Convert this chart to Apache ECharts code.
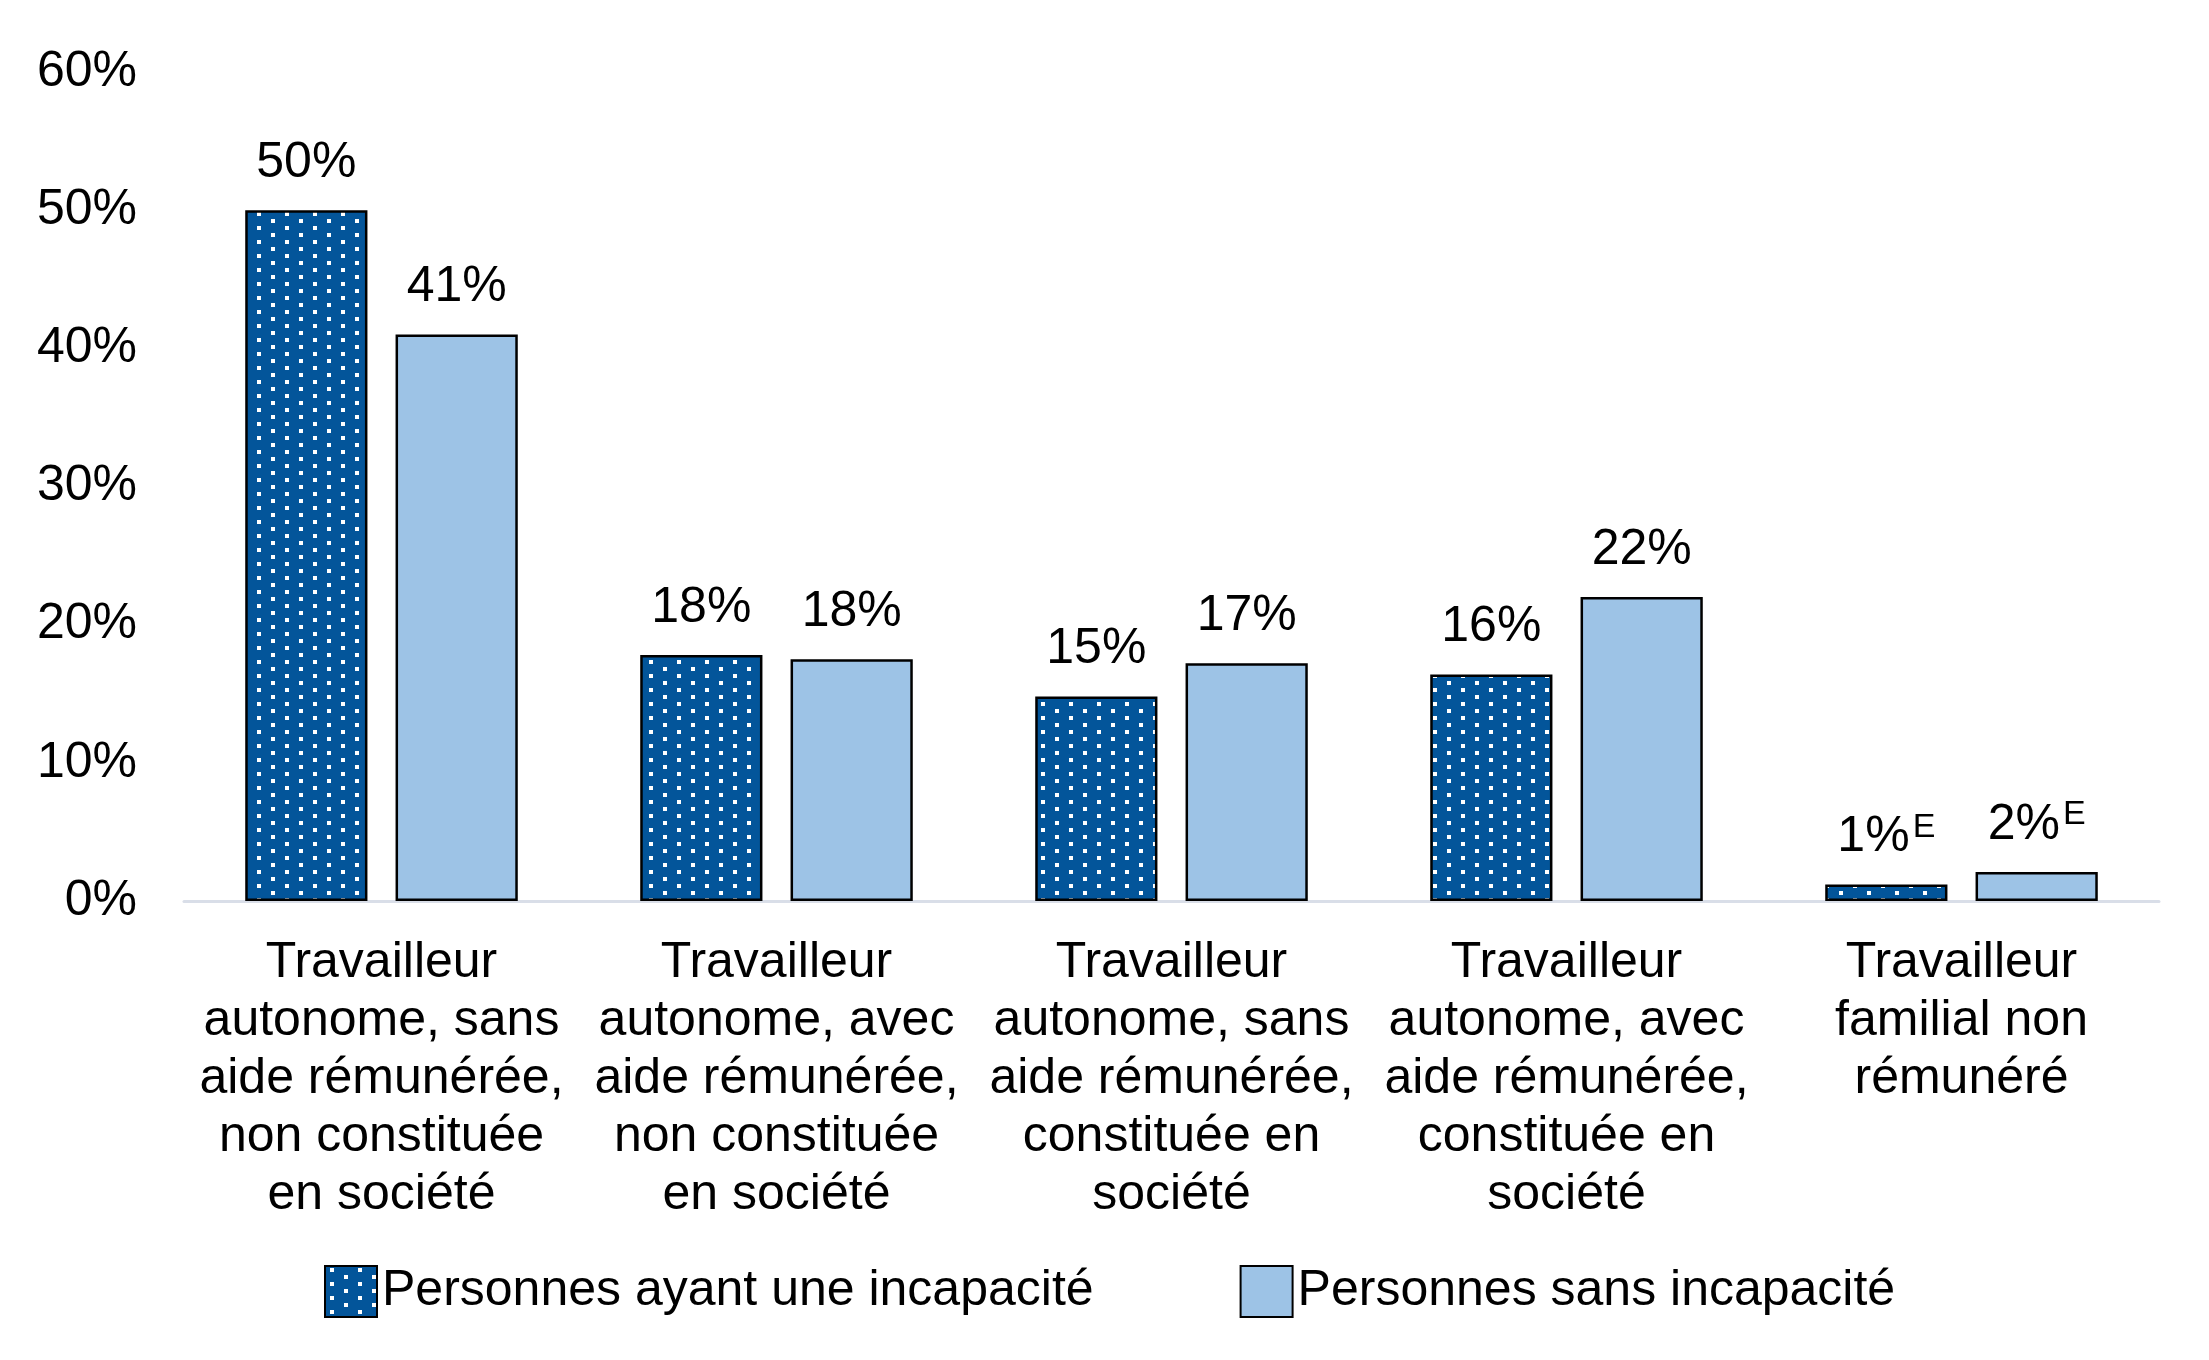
<!DOCTYPE html>
<html>
<head>
<meta charset="utf-8">
<script src="https://cdn.jsdelivr.net/npm/echarts@6/dist/echarts.min.js"></script>
<style>
html,body{margin:0;padding:0;background:#fff;}
#chart{width:2209px;height:1360px;}
</style>
</head>
<body>
<div id="chart"></div>
<script>
const categories = [
  "Travailleur\nautonome, sans\naide rémunérée,\nnon constituée\nen société",
  "Travailleur\nautonome, avec\naide rémunérée,\nnon constituée\nen société",
  "Travailleur\nautonome, sans\naide rémunérée,\nconstituée en\nsociété",
  "Travailleur\nautonome, avec\naide rémunérée,\nconstituée en\nsociété",
  "Travailleur\nfamilial non\nrémunéré"
];
const seriesNames = ["Personnes ayant une incapacité", "Personnes sans incapacité"];
const withDisability = [50.0, 17.8, 14.8, 16.4, 1.2];
const withoutDisability = [41.0, 17.5, 17.2, 22.0, 2.1];
const labelsWith = ["50%", "18%", "15%", "16%", "1%"];
const labelsWithout = ["41%", "18%", "17%", "22%", "2%"];
const flagsWith = ["", "", "", "", "E"];
const flagsWithout = ["", "", "", "", "E"];
const yTicks = [0, 10, 20, 30, 40, 50, 60];

const FONT = "'Liberation Sans', Arial, sans-serif";
const FS = 50;
const DARK = "#03559A";
const LIGHT = "#9DC3E6";

// dotted pattern
const pc = document.createElement('canvas');
pc.width = 28; pc.height = 14;
const ctx = pc.getContext('2d');
ctx.fillStyle = DARK; ctx.fillRect(0, 0, 28, 14);
ctx.fillStyle = "#ffffff";
ctx.fillRect(5, 2, 4, 4);
ctx.fillRect(19, 9, 4, 4);
const pattern = { image: pc, repeat: 'repeat' };

function labelFmt(labels, flags) {
  return function (p) {
    const t = labels[p.dataIndex];
    const f = flags[p.dataIndex];
    return f ? '{v|' + t + '}{sup|' + f + '}' : '{v|' + t + '}';
  };
}
const richLabel = {
  v: { fontSize: FS, fontFamily: FONT, color: '#000', lineHeight: 54 },
  sup: { fontSize: 34, fontFamily: FONT, color: '#000', verticalAlign: 'top', lineHeight: 54, padding: [0, 0, 18, 3] }
};

const chart = echarts.init(document.getElementById('chart'));
chart.setOption({
  backgroundColor: '#fff',
  animation: false,
  grid: { left: 184, right: 50, top: 72, bottom: 459, containLabel: false },
  legend: {
    bottom: 37,
    left: 319,
    icon: 'rect',
    itemWidth: 52,
    itemHeight: 51,
    itemGap: 146,
    textStyle: { fontSize: FS, fontFamily: FONT, color: '#000' },
    data: seriesNames
  },
  xAxis: {
    type: 'category',
    data: categories,
    axisLine: { lineStyle: { color: '#D9DEE8', width: 3 } },
    axisTick: { show: false },
    axisLabel: { fontSize: FS, fontFamily: FONT, color: '#000', lineHeight: 58, margin: 33, interval: 0 }
  },
  yAxis: {
    type: 'value',
    min: yTicks[0],
    max: yTicks[yTicks.length - 1],
    interval: 10,
    splitLine: { show: false },
    axisLine: { show: false },
    axisTick: { show: false },
    axisLabel: { fontSize: FS, fontFamily: FONT, color: '#000', margin: 47, formatter: v => v + '%' }
  },
  series: [
    {
      name: seriesNames[0],
      type: 'bar',
      data: withDisability,
      barGap: '23%',
      barCategoryGap: '31%',
      itemStyle: { color: pattern, borderColor: '#000', borderWidth: 2.5 },
      label: { show: true, position: 'top', distance: 20, formatter: labelFmt(labelsWith, flagsWith), rich: richLabel }
    },
    {
      name: seriesNames[1],
      type: 'bar',
      data: withoutDisability,
      barGap: '23%',
      barCategoryGap: '31%',
      itemStyle: { color: LIGHT, borderColor: '#000', borderWidth: 2.5 },
      label: { show: true, position: 'top', distance: 20, formatter: labelFmt(labelsWithout, flagsWithout), rich: richLabel }
    }
  ]
});
</script>
</body>
</html>
